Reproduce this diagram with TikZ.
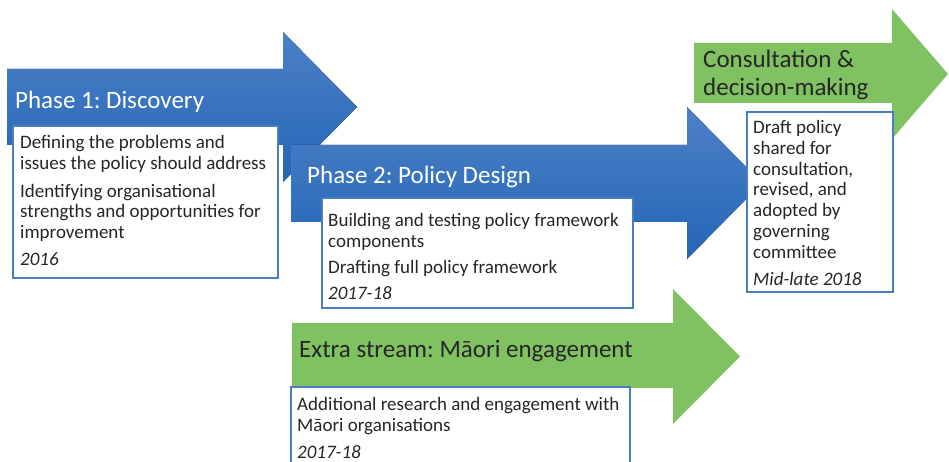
\documentclass[tikz,border=0pt]{standalone}
\usepackage{fontspec}
\setmainfont{Carlito}
\usepackage{xcolor}
\usepackage{tikz}
\usetikzlibrary{positioning}
\frenchspacing
\definecolor{phasetop}{HTML}{4D80C6}
\definecolor{phasebot}{HTML}{2366B6}
\definecolor{streamgreen}{HTML}{80C262}
\definecolor{boxblue}{HTML}{4A7EC1}
\definecolor{bodytext}{HTML}{262626}
\tikzset{
  BlueArrow/.style={top color=phasetop, bottom color=phasebot, draw=none},
  GreenArrow/.style={fill=streamgreen, draw=none},
  PhaseTitle/.style={inner sep=0pt, anchor=north west, align=left,
    font=\fontsize{25}{28}\selectfont},
  InfoBox/.style={draw=boxblue, line width=1.5pt, fill=white,
    anchor=north west, inner sep=0pt, outer sep=0pt},
  InfoText/.style={inner sep=0pt, anchor=north west, text=bodytext,
    font=\fontsize{19}{20.9}\selectfont, align=left}
}
% fixed first-line heights, so a node's north sits a known distance above its first baseline
\newcommand{\TitleTop}{\rule{0pt}{20pt}}
\newcommand{\TextTop}{\rule{0pt}{16pt}}
\newcommand{\PhaseArrow}[8][]{%
  % #1 = fill style, #2 = left x, #3 = body top, #4 = body bottom
  % #5 = head base x, #6 = head top, #7 = head bottom, #8 = tip x
  \fill[#1] (#2,#3) -- (#5,#3) -- (#5,#6) -- (#8,{(#6+#7)/2})
    -- (#5,#7) -- (#5,#4) -- (#2,#4) -- cycle;
}

\begin{document}
\begin{tikzpicture}[x=1pt, y=-1pt, line join=miter]
  \useasboundingbox (0,0) rectangle (949,462);
  \clip (0,0) rectangle (949,462);

  % Phase 1
  \PhaseArrow[BlueArrow]{7}{69}{145}{283}{32}{182}{357}
  \node[PhaseTitle, text=white] (disc) at (15,88) {\TitleTop Phase 1: Discovery};
  \node[InfoBox, minimum width=265, minimum height=152] (discbox) at (13,126) {};
  \node[InfoText] (disctext) at (20,132) {\TextTop Defining the problems and\\
    issues the policy should address\\[7pt]
    Identifying organisational\\
    strengths and opportunities for\\
    improvement\\[5.5pt]
    \textit{2016}};

  % Phase 2
  \PhaseArrow[BlueArrow]{291}{145}{222}{687}{107}{259}{762}
  \node[PhaseTitle, text=white] (design) at (307,163) {\TitleTop Phase 2: Policy Design};
  \node[InfoBox, minimum width=311, minimum height=110] (designbox) at (322,198) {};
  \node[InfoText] (designtext) at (328,210) {\TextTop Building and testing policy framework\\
    components\\[5pt]
    Drafting full policy framework\\[6pt]
    \textit{2017-18}};

  % Consultation
  \PhaseArrow[GreenArrow]{694}{43}{103}{892}{9}{139}{948}
  \node[PhaseTitle, text=bodytext] (consult) at (703,47) {\TitleTop Consultation \&\\decision-making};
  \node[InfoBox, minimum width=146, minimum height=180] (consultbox) at (747,112) {};
  \node[InfoText] (consulttext) at (753,117) {\TextTop Draft policy\\
    shared for\\
    consultation,\\
    revised, and\\
    adopted by\\
    governing\\
    committee\\[6pt]
    \textit{Mid-late 2018}};

  % Extra stream
  \PhaseArrow[GreenArrow]{292}{323}{388}{673}{289}{424}{740}
  \node[PhaseTitle, text=bodytext] (maori) at (299,337) {\TitleTop Extra stream: Māori engagement};
  \node[InfoBox, minimum width=339, minimum height=95] (maoribox) at (291,387) {};
  \node[InfoText] (maoritext) at (297,394) {\TextTop Additional research and engagement with\\
    Māori organisations\\[6pt]
    \textit{2017-18}};
\end{tikzpicture}
\end{document}
